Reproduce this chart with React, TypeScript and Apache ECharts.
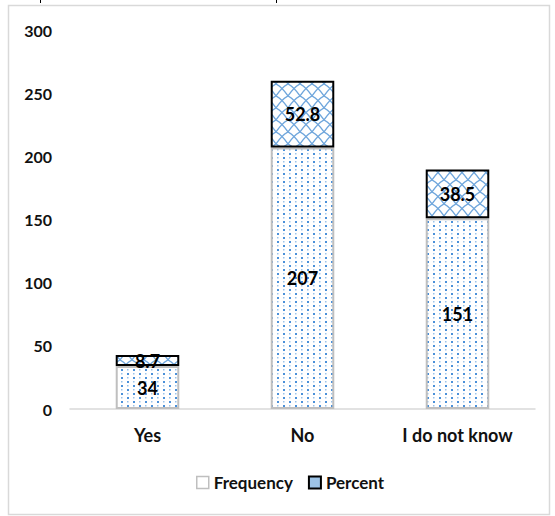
import React, { useEffect, useRef } from "react";
import * as echarts from "echarts";

const categories = ["Yes", "No", "I do not know"];
const frequency = [34, 207, 151];
const percent = [8.7, 52.8, 38.5];
const yTicks = { min: 0, max: 300, interval: 50 };

function dotPattern(): string {
  const c = document.createElement("canvas");
  c.width = 12;
  c.height = 8;
  const ctx = c.getContext("2d")!;
  ctx.fillStyle = "#ffffff";
  ctx.fillRect(0, 0, 12, 8);
  ctx.fillStyle = "#4a90d9";
  ctx.fillRect(1, 1, 2, 2);
  ctx.fillRect(7, 5, 2, 2);
  ctx.fillStyle = "#9cc3ea";
  ctx.fillRect(7, 1, 1.5, 1.5);
  ctx.fillRect(1, 5, 1.5, 1.5);
  return c.toDataURL();
}

function latticePattern(): string {
  const c = document.createElement("canvas");
  c.width = 12;
  c.height = 12;
  const ctx = c.getContext("2d")!;
  ctx.fillStyle = "#ffffff";
  ctx.fillRect(0, 0, 12, 12);
  ctx.strokeStyle = "#6fa6dc";
  ctx.lineWidth = 1.3;
  ctx.beginPath();
  ctx.moveTo(0, 0);
  ctx.quadraticCurveTo(6, 3, 12, 12);
  ctx.moveTo(12, 0);
  ctx.quadraticCurveTo(6, 3, 0, 12);
  ctx.stroke();
  return c.toDataURL();
}

export default function App() {
  const ref = useRef<HTMLDivElement>(null);
  useEffect(() => {
    if (!ref.current) return;
    const chart = echarts.init(ref.current, null, { renderer: "svg" });
    const font = "Lato, 'Open Sans', sans-serif";
    chart.setOption({
      animation: false,
      textStyle: { fontFamily: font },
      graphic: [
        {
          type: "rect",
          shape: { x: 8.5, y: 5.5, width: 541, height: 509 },
          style: { fill: "none", stroke: "#d9d9d9", lineWidth: 1.5 },
        },
        { type: "line", shape: { x1: 40.5, y1: 0, x2: 40.5, y2: 3 }, style: { stroke: "#000", lineWidth: 1 } },
        { type: "line", shape: { x1: 276.5, y1: 0, x2: 276.5, y2: 3 }, style: { stroke: "#000", lineWidth: 1 } },
      ],
      grid: { left: 70, right: 20, top: 30, bottom: 107 },
      legend: {
        bottom: 20,
        left: 191,
        icon: "rect",
        itemWidth: 12,
        itemHeight: 12,
        itemGap: 15,
        textStyle: { fontFamily: font, fontWeight: "bold", fontSize: 17, color: "#111" },
        data: [
          { name: "Frequency", itemStyle: { color: "#fff", borderColor: "#bfbfbf", borderWidth: 1.5 } },
          { name: "Percent", itemStyle: { color: "#9dc3e6", borderColor: "#000", borderWidth: 2 } },
        ],
      },
      xAxis: {
        type: "category",
        data: categories,
        axisLine: { lineStyle: { color: "#d9d9d9", width: 1.5 } },
        axisTick: { show: false },
        axisLabel: { fontFamily: font, fontWeight: "bold", fontSize: 18, color: "#111", margin: 17 },
      },
      yAxis: {
        type: "value",
        min: yTicks.min,
        max: yTicks.max,
        interval: yTicks.interval,
        splitLine: { show: false },
        axisLine: { show: false },
        axisLabel: { fontFamily: font, fontWeight: "bold", fontSize: 16, color: "#111", margin: 18 },
      },
      series: [
        {
          name: "Frequency",
          type: "bar",
          stack: "total",
          barWidth: "41%",
          data: frequency,
          itemStyle: {
            color: { image: dotPattern(), repeat: "repeat", imageWidth: 12, imageHeight: 8 } as any,
            borderColor: "#bfbfbf",
            borderWidth: 2,
          },
          label: {
            show: true,
            position: "inside",
            fontFamily: font,
            fontWeight: "bold",
            fontSize: 18,
            color: "#000",
          },
        },
        {
          name: "Percent",
          type: "bar",
          stack: "total",
          data: percent,
          itemStyle: {
            color: { image: latticePattern(), repeat: "repeat", imageWidth: 12, imageHeight: 12 } as any,
            borderColor: "#000",
            borderWidth: 2,
          },
          label: {
            show: true,
            position: "inside",
            fontFamily: font,
            fontWeight: "bold",
            fontSize: 18,
            color: "#000",
          },
        },
      ],
    });
    return () => chart.dispose();
  }, []);
  return (
    <div
      ref={ref}
      style={{ position: "fixed", left: 0, top: 0, width: 555, height: 516, background: "#fff" }}
    />
  );
}
